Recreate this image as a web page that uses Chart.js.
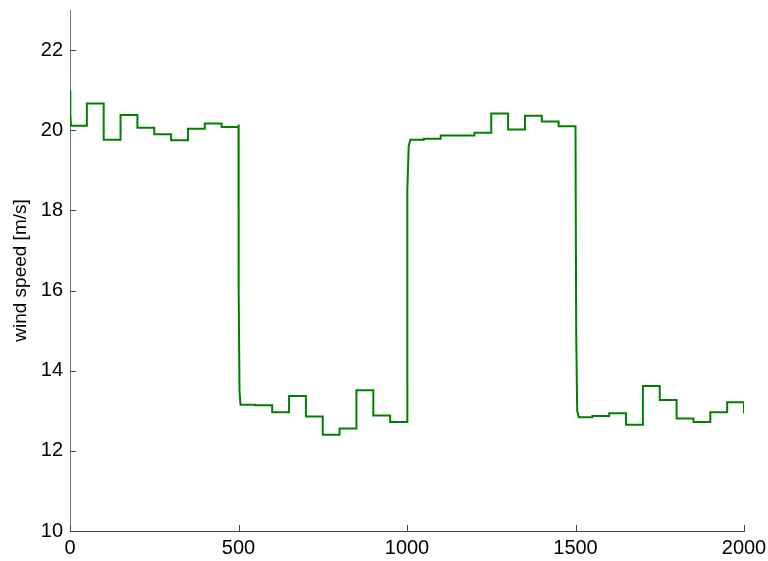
<!DOCTYPE html>
<html>
<head>
<meta charset="utf-8">
<script src="https://cdn.jsdelivr.net/npm/chart.js@4.4.1/dist/chart.umd.min.js"></script>
<style>
    html, body { margin: 0; padding: 0; background: #fff; }
    #wrap { width: 768px; height: 561px; }
</style>
</head>
<body>
<div id="wrap"><canvas id="windChart" width="768" height="561"></canvas></div>
<script>
// wind speed held for 50 s blocks
const stepWidth = 50;
const levels = [
    20.11, 20.67, 19.76, 20.38, 20.06, 19.90, 19.75, 20.04, 20.17, 20.08,
    13.15, 13.14, 12.96, 13.37, 12.86, 12.40, 12.56, 13.51, 12.88, 12.72,
    19.76, 19.79, 19.87, 19.87, 19.94, 20.42, 20.02, 20.36, 20.22, 20.10,
    12.84, 12.87, 12.94, 12.65, 13.62, 13.27, 12.81, 12.72, 12.96, 13.21
];

// transients at the big changes
const startX = [0, 1, 3];
const startY = [21.0, 20.4, 20.11];
const drop1X = [500, 501, 503, 506];
const drop1Y = [20.14, 16.0, 13.5, 13.15];
const riseX = [1000, 1002, 1005, 1010];
const riseY = [12.72, 18.5, 19.6, 19.76];
const drop2X = [1500, 1502, 1505, 1510];
const drop2Y = [20.10, 15.0, 13.0, 12.84];
const endX = [2000];
const endY = [12.93];

const xTicks = [0, 500, 1000, 1500, 2000];
const yTicks = [10, 12, 14, 16, 18, 20, 22];

const transients = [
    [startX, startY], [drop1X, drop1Y], [riseX, riseY], [drop2X, drop2Y]
];

const points = [];
levels.forEach((v, i) => {
    const x0 = i * stepWidth;
    const t = transients.find(tr => tr[0][0] === x0);
    if (t) {
        t[0].forEach((x, k) => points.push({ x: x, y: t[1][k] }));
    } else {
        points.push({ x: x0, y: v });
    }
    points.push({ x: x0 + stepWidth, y: v });
});
endX.forEach((x, k) => points.push({ x: x, y: endY[k] }));

// Matlab style ticks pointing into the plot
const inwardTicks = {
    id: "inwardTicks",
    afterDraw(chart) {
        const ctx = chart.ctx;
        const xs = chart.scales.x, ys = chart.scales.y;
        const area = chart.chartArea;
        ctx.save();
        ctx.lineWidth = 1;
        ctx.strokeStyle = "#444";
        yTicks.forEach(v => {
            const p = Math.round(ys.getPixelForValue(v)) + 0.5;
            ctx.beginPath();
            ctx.moveTo(area.left, p);
            ctx.lineTo(area.left + 6, p);
            ctx.stroke();
        });
        xTicks.forEach(v => {
            const p = Math.round(xs.getPixelForValue(v)) + 0.5;
            ctx.beginPath();
            ctx.moveTo(p, area.bottom);
            ctx.lineTo(p, area.bottom - 6);
            ctx.stroke();
        });
        ctx.restore();
    }
};

const font = { family: "'Liberation Sans', Arial, sans-serif", size: 20 };

new Chart(document.getElementById("windChart"), {
    type: "line",
    data: {
        datasets: [{
            data: points,
            borderColor: "#008000",
            borderWidth: 2,
            pointRadius: 0,
            fill: false,
            tension: 0
        }]
    },
    options: {
        responsive: false,
        animation: false,
        events: [],
        layout: { padding: { top: 10, right: 24, left: 0, bottom: 0 } },
        plugins: { legend: { display: false }, tooltip: { enabled: false } },
        scales: {
            x: {
                type: "linear",
                min: 0,
                max: 2000,
                afterBuildTicks: s => { s.ticks = xTicks.map(v => ({ value: v })); },
                afterFit: s => { s.height = 30; s.paddingLeft = 0; s.paddingRight = 0; },
                grid: { display: false, drawTicks: false },
                border: { display: true, color: "#444", width: 1 },
                ticks: {
                    color: "#000", font: font, padding: 5, maxRotation: 0, autoSkip: false,
                    callback: v => String(v)
                }
            },
            y: {
                min: 10,
                max: 23,
                afterBuildTicks: s => { s.ticks = yTicks.map(v => ({ value: v })); },
                afterFit: s => { s.width = 70; s.paddingTop = 0; s.paddingBottom = 0; },
                grid: { display: false, drawTicks: false },
                border: { display: true, color: "#777", width: 1 },
                ticks: { color: "#000", font: font, padding: 7 },
                title: {
                    display: true,
                    text: "wind speed [m/s]",
                    color: "#000",
                    font: { family: "'Liberation Sans', Arial, sans-serif", size: 19 },
                    padding: { top: 9, bottom: 4 }
                }
            }
        }
    },
    plugins: [inwardTicks]
});
</script>
</body>
</html>
